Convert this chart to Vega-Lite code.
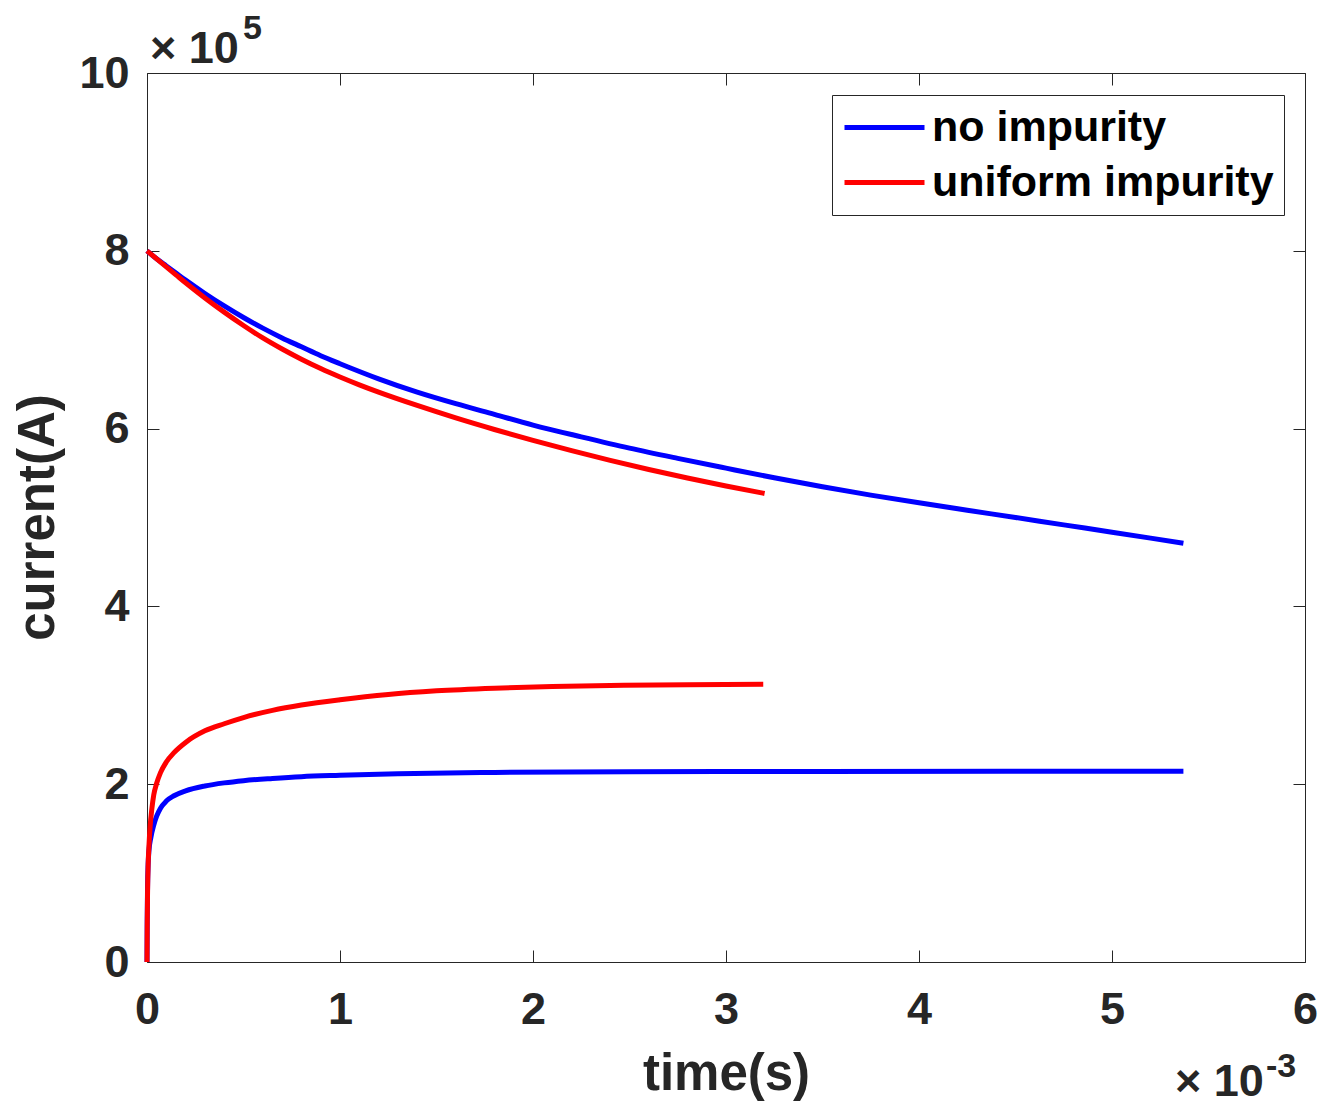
{
  "$schema": "https://vega.github.io/schema/vega-lite/v6.json",
  "width": 1158,
  "height": 889,
  "autosize": {"type": "none"},
  "padding": {"left": 147, "top": 73, "right": 17, "bottom": 144},
  "background": "white",
  "config": {"view": {"stroke": null}, "font": "Liberation Sans"},
  "datasets": {
    "curves": [
      {"t": 0, "current": 8.00, "case": "no impurity", "branch": "decay"},
      {"t": 0.05, "current": 7.91, "case": "no impurity", "branch": "decay"},
      {"t": 0.1, "current": 7.83, "case": "no impurity", "branch": "decay"},
      {"t": 0.15, "current": 7.75, "case": "no impurity", "branch": "decay"},
      {"t": 0.2, "current": 7.67, "case": "no impurity", "branch": "decay"},
      {"t": 0.3, "current": 7.52, "case": "no impurity", "branch": "decay"},
      {"t": 0.4, "current": 7.38, "case": "no impurity", "branch": "decay"},
      {"t": 0.5, "current": 7.25, "case": "no impurity", "branch": "decay"},
      {"t": 0.6, "current": 7.13, "case": "no impurity", "branch": "decay"},
      {"t": 0.7, "current": 7.02, "case": "no impurity", "branch": "decay"},
      {"t": 0.8, "current": 6.92, "case": "no impurity", "branch": "decay"},
      {"t": 0.9, "current": 6.82, "case": "no impurity", "branch": "decay"},
      {"t": 1.0, "current": 6.73, "case": "no impurity", "branch": "decay"},
      {"t": 1.2, "current": 6.56, "case": "no impurity", "branch": "decay"},
      {"t": 1.4, "current": 6.41, "case": "no impurity", "branch": "decay"},
      {"t": 1.6, "current": 6.28, "case": "no impurity", "branch": "decay"},
      {"t": 1.8, "current": 6.16, "case": "no impurity", "branch": "decay"},
      {"t": 2.0, "current": 6.04, "case": "no impurity", "branch": "decay"},
      {"t": 2.25, "current": 5.907, "case": "no impurity", "branch": "decay"},
      {"t": 2.5, "current": 5.78, "case": "no impurity", "branch": "decay"},
      {"t": 2.75, "current": 5.665, "case": "no impurity", "branch": "decay"},
      {"t": 3.0, "current": 5.555, "case": "no impurity", "branch": "decay"},
      {"t": 3.25, "current": 5.447, "case": "no impurity", "branch": "decay"},
      {"t": 3.5, "current": 5.345, "case": "no impurity", "branch": "decay"},
      {"t": 3.75, "current": 5.252, "case": "no impurity", "branch": "decay"},
      {"t": 4.0, "current": 5.165, "case": "no impurity", "branch": "decay"},
      {"t": 4.25, "current": 5.082, "case": "no impurity", "branch": "decay"},
      {"t": 4.5, "current": 5.0, "case": "no impurity", "branch": "decay"},
      {"t": 4.75, "current": 4.917, "case": "no impurity", "branch": "decay"},
      {"t": 5.0, "current": 4.835, "case": "no impurity", "branch": "decay"},
      {"t": 5.2, "current": 4.768, "case": "no impurity", "branch": "decay"},
      {"t": 5.37, "current": 4.71, "case": "no impurity", "branch": "decay"},
      {"t": 0, "current": 0, "case": "no impurity", "branch": "rise"},
      {"t": 0.001, "current": 0.45, "case": "no impurity", "branch": "rise"},
      {"t": 0.003, "current": 0.85, "case": "no impurity", "branch": "rise"},
      {"t": 0.006, "current": 1.1, "case": "no impurity", "branch": "rise"},
      {"t": 0.01, "current": 1.25, "case": "no impurity", "branch": "rise"},
      {"t": 0.02, "current": 1.40, "case": "no impurity", "branch": "rise"},
      {"t": 0.035, "current": 1.54, "case": "no impurity", "branch": "rise"},
      {"t": 0.05, "current": 1.64, "case": "no impurity", "branch": "rise"},
      {"t": 0.07, "current": 1.73, "case": "no impurity", "branch": "rise"},
      {"t": 0.1, "current": 1.81, "case": "no impurity", "branch": "rise"},
      {"t": 0.14, "current": 1.87, "case": "no impurity", "branch": "rise"},
      {"t": 0.2, "current": 1.925, "case": "no impurity", "branch": "rise"},
      {"t": 0.3, "current": 1.98, "case": "no impurity", "branch": "rise"},
      {"t": 0.4, "current": 2.015, "case": "no impurity", "branch": "rise"},
      {"t": 0.5, "current": 2.04, "case": "no impurity", "branch": "rise"},
      {"t": 0.65, "current": 2.065, "case": "no impurity", "branch": "rise"},
      {"t": 0.8, "current": 2.085, "case": "no impurity", "branch": "rise"},
      {"t": 1.0, "current": 2.10, "case": "no impurity", "branch": "rise"},
      {"t": 1.3, "current": 2.118, "case": "no impurity", "branch": "rise"},
      {"t": 1.8, "current": 2.133, "case": "no impurity", "branch": "rise"},
      {"t": 2.5, "current": 2.14, "case": "no impurity", "branch": "rise"},
      {"t": 3.5, "current": 2.143, "case": "no impurity", "branch": "rise"},
      {"t": 5.37, "current": 2.145, "case": "no impurity", "branch": "rise"},
      {"t": 0, "current": 8.00, "case": "uniform impurity", "branch": "decay"},
      {"t": 0.05, "current": 7.91, "case": "uniform impurity", "branch": "decay"},
      {"t": 0.1, "current": 7.82, "case": "uniform impurity", "branch": "decay"},
      {"t": 0.15, "current": 7.73, "case": "uniform impurity", "branch": "decay"},
      {"t": 0.2, "current": 7.64, "case": "uniform impurity", "branch": "decay"},
      {"t": 0.3, "current": 7.47, "case": "uniform impurity", "branch": "decay"},
      {"t": 0.4, "current": 7.31, "case": "uniform impurity", "branch": "decay"},
      {"t": 0.5, "current": 7.16, "case": "uniform impurity", "branch": "decay"},
      {"t": 0.6, "current": 7.02, "case": "uniform impurity", "branch": "decay"},
      {"t": 0.7, "current": 6.895, "case": "uniform impurity", "branch": "decay"},
      {"t": 0.8, "current": 6.78, "case": "uniform impurity", "branch": "decay"},
      {"t": 0.9, "current": 6.675, "case": "uniform impurity", "branch": "decay"},
      {"t": 1.0, "current": 6.58, "case": "uniform impurity", "branch": "decay"},
      {"t": 1.1, "current": 6.492, "case": "uniform impurity", "branch": "decay"},
      {"t": 1.2, "current": 6.41, "case": "uniform impurity", "branch": "decay"},
      {"t": 1.4, "current": 6.26, "case": "uniform impurity", "branch": "decay"},
      {"t": 1.6, "current": 6.12, "case": "uniform impurity", "branch": "decay"},
      {"t": 1.8, "current": 5.99, "case": "uniform impurity", "branch": "decay"},
      {"t": 2.0, "current": 5.867, "case": "uniform impurity", "branch": "decay"},
      {"t": 2.2, "current": 5.752, "case": "uniform impurity", "branch": "decay"},
      {"t": 2.4, "current": 5.642, "case": "uniform impurity", "branch": "decay"},
      {"t": 2.6, "current": 5.54, "case": "uniform impurity", "branch": "decay"},
      {"t": 2.8, "current": 5.445, "case": "uniform impurity", "branch": "decay"},
      {"t": 3.0, "current": 5.355, "case": "uniform impurity", "branch": "decay"},
      {"t": 3.2, "current": 5.27, "case": "uniform impurity", "branch": "decay"},
      {"t": 0, "current": 0, "case": "uniform impurity", "branch": "rise"},
      {"t": 0.001, "current": 0.4, "case": "uniform impurity", "branch": "rise"},
      {"t": 0.003, "current": 0.8, "case": "uniform impurity", "branch": "rise"},
      {"t": 0.006, "current": 1.1, "case": "uniform impurity", "branch": "rise"},
      {"t": 0.01, "current": 1.30, "case": "uniform impurity", "branch": "rise"},
      {"t": 0.016, "current": 1.52, "case": "uniform impurity", "branch": "rise"},
      {"t": 0.025, "current": 1.72, "case": "uniform impurity", "branch": "rise"},
      {"t": 0.035, "current": 1.88, "case": "uniform impurity", "branch": "rise"},
      {"t": 0.05, "current": 2.01, "case": "uniform impurity", "branch": "rise"},
      {"t": 0.07, "current": 2.13, "case": "uniform impurity", "branch": "rise"},
      {"t": 0.1, "current": 2.25, "case": "uniform impurity", "branch": "rise"},
      {"t": 0.14, "current": 2.355, "case": "uniform impurity", "branch": "rise"},
      {"t": 0.2, "current": 2.47, "case": "uniform impurity", "branch": "rise"},
      {"t": 0.3, "current": 2.60, "case": "uniform impurity", "branch": "rise"},
      {"t": 0.4, "current": 2.68, "case": "uniform impurity", "branch": "rise"},
      {"t": 0.5, "current": 2.75, "case": "uniform impurity", "branch": "rise"},
      {"t": 0.65, "current": 2.83, "case": "uniform impurity", "branch": "rise"},
      {"t": 0.8, "current": 2.89, "case": "uniform impurity", "branch": "rise"},
      {"t": 1.0, "current": 2.95, "case": "uniform impurity", "branch": "rise"},
      {"t": 1.25, "current": 3.01, "case": "uniform impurity", "branch": "rise"},
      {"t": 1.5, "current": 3.05, "case": "uniform impurity", "branch": "rise"},
      {"t": 1.8, "current": 3.08, "case": "uniform impurity", "branch": "rise"},
      {"t": 2.1, "current": 3.10, "case": "uniform impurity", "branch": "rise"},
      {"t": 2.4, "current": 3.11, "case": "uniform impurity", "branch": "rise"},
      {"t": 2.8, "current": 3.12, "case": "uniform impurity", "branch": "rise"},
      {"t": 3.193, "current": 3.125, "case": "uniform impurity", "branch": "rise"}
    ]
  },
  "layer": [
    {
      "data": {"name": "curves"},
      "mark": {"type": "line", "strokeWidth": 5, "interpolate": "monotone"},
      "encoding": {
        "x": {
          "field": "t", "type": "quantitative",
          "scale": {"domain": [0, 6], "nice": false, "zero": false},
          "axis": {
            "orient": "bottom", "values": [0, 1, 2, 3, 4, 5, 6], "format": "d",
            "grid": false, "labelFlush": false, "labelOverlap": false,
            "labelFont": "Liberation Sans", "labelFontWeight": "bold", "labelFontSize": 45,
            "labelColor": "#262626", "labelPadding": 37,
            "tickSize": -12, "tickColor": "#262626", "tickWidth": 1,
            "domainColor": "#262626", "domainWidth": 1,
            "title": "time(s)", "titleFont": "Liberation Sans", "titleFontWeight": "bold",
            "titleFontSize": 51, "titleColor": "#262626",
            "titleX": 579, "titleY": 127, "titleAlign": "center", "titleBaseline": "alphabetic", "titleAnchor": null
          }
        },
        "y": {
          "field": "current", "type": "quantitative",
          "scale": {"domain": [0, 10], "nice": false},
          "axis": {
            "orient": "left", "values": [0, 2, 4, 6, 8, 10], "format": "d",
            "grid": false, "labelFlush": false, "labelOverlap": false,
            "labelFont": "Liberation Sans", "labelFontWeight": "bold", "labelFontSize": 45,
            "labelColor": "#262626", "labelPadding": 30,
            "tickSize": -12, "tickColor": "#262626", "tickWidth": 1,
            "domainColor": "#262626", "domainWidth": 1,
            "title": "current(A)", "titleFont": "Liberation Sans", "titleFontWeight": "bold",
            "titleFontSize": 51, "titleColor": "#262626",
            "titleX": -94, "titleY": 444, "titleAngle": -90, "titleAlign": "center", "titleBaseline": "alphabetic", "titleAnchor": null
          }
        },
        "color": {
          "field": "case", "type": "nominal",
          "scale": {"domain": ["no impurity", "uniform impurity"], "range": ["#0000ff", "#ff0000"]},
          "legend": {
            "title": null, "orient": "none", "legendX": 685, "legendY": 22, "direction": "vertical",
            "symbolType": "M-1,0H3", "symbolSize": 1600, "symbolStrokeWidth": 5,
            "labelFont": "Liberation Sans", "labelFontSize": 43, "labelFontWeight": "bold",
            "labelColor": "black", "labelLimit": 1000, "labelOffset": 45,
            "rowPadding": 10, "padding": 10,
            "strokeColor": "#262626", "fillColor": "white", "cornerRadius": 0
          }
        },
        "detail": {"field": "branch", "type": "nominal"}
      }
    },
    {
      "data": {"values": [{"t": 0, "current": 10, "label": "× 10"}]},
      "mark": {"type": "text", "align": "left", "baseline": "alphabetic", "dx": 3, "dy": -10,
               "font": "Liberation Sans", "fontWeight": "bold", "fontSize": 45, "color": "#262626"},
      "encoding": {
        "x": {"field": "t", "type": "quantitative",
              "axis": {"orient": "top", "values": [0, 1, 2, 3, 4, 5, 6], "labels": false, "grid": false,
                       "tickSize": -12, "tickColor": "#262626", "tickWidth": 1,
                       "domainColor": "#262626", "domainWidth": 1, "title": null}},
        "y": {"field": "current", "type": "quantitative",
              "axis": {"orient": "right", "values": [0, 2, 4, 6, 8, 10], "labels": false, "grid": false,
                       "tickSize": -12, "tickColor": "#262626", "tickWidth": 1,
                       "domainColor": "#262626", "domainWidth": 1, "title": null}},
        "text": {"field": "label"}
      }
    },
    {
      "data": {"values": [{"t": 0, "current": 10, "label": "5"}]},
      "mark": {"type": "text", "align": "left", "baseline": "alphabetic", "dx": 96, "dy": -34,
               "font": "Liberation Sans", "fontWeight": "bold", "fontSize": 34, "color": "#262626"},
      "encoding": {
        "x": {"field": "t", "type": "quantitative", "axis": null},
        "y": {"field": "current", "type": "quantitative", "axis": null},
        "text": {"field": "label"}
      }
    },
    {
      "data": {"values": [{"t": 6, "current": 0, "label": "× 10"}]},
      "mark": {"type": "text", "align": "left", "baseline": "alphabetic", "dx": -130, "dy": 134,
               "font": "Liberation Sans", "fontWeight": "bold", "fontSize": 45, "color": "#262626"},
      "encoding": {
        "x": {"field": "t", "type": "quantitative", "axis": null},
        "y": {"field": "current", "type": "quantitative", "axis": null},
        "text": {"field": "label"}
      }
    },
    {
      "data": {"values": [{"t": 6, "current": 0, "label": "-3"}]},
      "mark": {"type": "text", "align": "left", "baseline": "alphabetic", "dx": -39, "dy": 115,
               "font": "Liberation Sans", "fontWeight": "bold", "fontSize": 34, "color": "#262626"},
      "encoding": {
        "x": {"field": "t", "type": "quantitative", "axis": null},
        "y": {"field": "current", "type": "quantitative", "axis": null},
        "text": {"field": "label"}
      }
    }
  ],
  "resolve": {"axis": {"x": "independent", "y": "independent"}}
}
